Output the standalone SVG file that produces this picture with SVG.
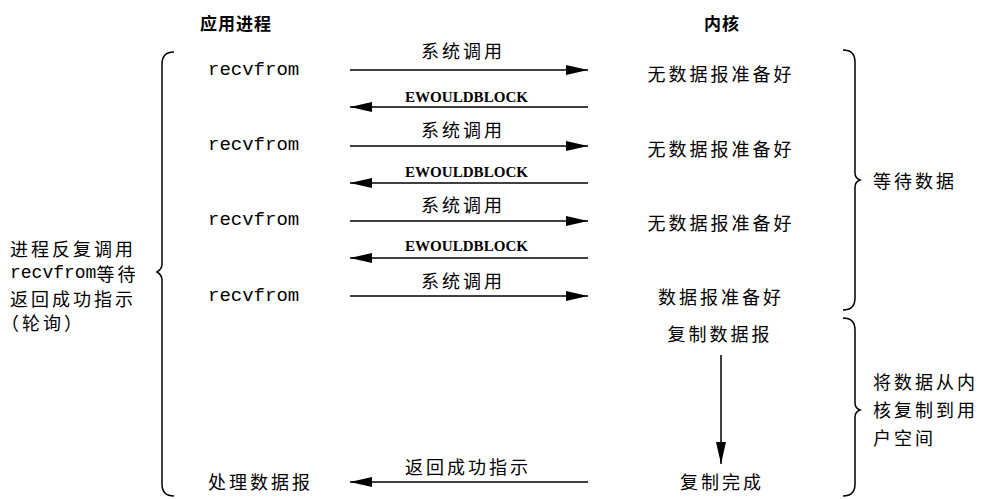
<svg xmlns="http://www.w3.org/2000/svg" width="990" height="499" viewBox="0 0 990 499">
<style>
text{fill:#000;dominant-baseline:central}
.c{font-family:"Noto Sans CJK SC","Liberation Sans",sans-serif;font-size:18px;letter-spacing:3px}
.h{font-family:"Noto Sans CJK SC","Liberation Sans",sans-serif;font-size:17px;font-weight:bold;letter-spacing:1px}
.m{font-family:"Liberation Mono",monospace;font-size:19px;letter-spacing:0}
.e{font-family:"Liberation Serif",serif;font-size:14px;font-weight:bold}
.a{stroke:#000;stroke-width:1.5;fill:none;marker-end:url(#ah)}
.b{stroke:#000;stroke-width:1.5;fill:none}
</style>
<defs>
<marker id="ah" viewBox="0 0 22 10" refX="22" refY="5" markerWidth="22" markerHeight="10" markerUnits="userSpaceOnUse" orient="auto">
<path d="M0,0 L22,5 L0,10 z" fill="#000"/>
</marker>
</defs>
<g id="headers">
<text class="h" x="200" y="22">应用进程</text>
<text class="h" x="704" y="22">内核</text>
</g>
<g id="app">
<text class="m" x="208" y="70">recvfrom</text>
<text class="m" x="208" y="145">recvfrom</text>
<text class="m" x="208" y="220">recvfrom</text>
<text class="m" x="208" y="296">recvfrom</text>
<text class="c" x="208" y="481">处理数据报</text>
</g>
<g id="kernel">
<text class="c" x="721" y="73" text-anchor="middle">无数据报准备好</text>
<text class="c" x="721" y="148" text-anchor="middle">无数据报准备好</text>
<text class="c" x="721" y="222" text-anchor="middle">无数据报准备好</text>
<text class="c" x="721" y="296" text-anchor="middle">数据报准备好</text>
<text class="c" x="720" y="333" text-anchor="middle">复制数据报</text>
<text class="c" x="722" y="481" text-anchor="middle">复制完成</text>
</g>
<g id="labels">
<text class="c" x="463" y="50" text-anchor="middle">系统调用</text>
<text class="c" x="463" y="129" text-anchor="middle">系统调用</text>
<text class="c" x="463" y="204" text-anchor="middle">系统调用</text>
<text class="c" x="463" y="280" text-anchor="middle">系统调用</text>
<text class="e" x="405" y="97" textLength="123" lengthAdjust="spacingAndGlyphs">EWOULDBLOCK</text>
<text class="e" x="405" y="172" textLength="123" lengthAdjust="spacingAndGlyphs">EWOULDBLOCK</text>
<text class="e" x="405" y="246" textLength="123" lengthAdjust="spacingAndGlyphs">EWOULDBLOCK</text>
<text class="c" x="468" y="466" text-anchor="middle">返回成功指示</text>
</g>
<g id="connectors">
<line class="a" x1="350" y1="70" x2="588" y2="70"/>
<line class="a" x1="588" y1="107" x2="350" y2="107"/>
<line class="a" x1="350" y1="146" x2="588" y2="146"/>
<line class="a" x1="588" y1="183" x2="350" y2="183"/>
<line class="a" x1="350" y1="221" x2="588" y2="221"/>
<line class="a" x1="588" y1="258" x2="350" y2="258"/>
<line class="a" x1="350" y1="296" x2="588" y2="296"/>
<line class="a" x1="588" y1="482" x2="350" y2="482"/>
<line class="a" x1="721" y1="355" x2="721" y2="464"/>
</g>
<g id="brace-left">
<path class="b" d="M174,52 Q162,52 162,64 L162,264 Q162,269 157,272 Q162,275 162,280 L162,484 Q162,496 174,496"/>
<text class="c" x="10" y="248">进程反复调用</text>
<text class="c" x="10" y="273"><tspan class="m" style="font-size:18px">recvfrom</tspan>等待</text>
<text class="c" x="10" y="298">返回成功指示</text>
<text class="c" x="1" y="322">（轮询）</text>
</g>
<g id="brace-wait">
<path class="b" d="M843,50 Q855,50 855,62 L855,173 Q855,178 860,180 Q855,182 855,187 L855,298 Q855,310 843,310"/>
<text class="c" x="873" y="180">等待数据</text>
</g>
<g id="brace-copy">
<path class="b" d="M843,318 Q855,318 855,330 L855,403 Q855,408 860,410 Q855,412 855,417 L855,484 Q855,496 843,496"/>
<text class="c" x="873" y="381">将数据从内</text>
<text class="c" x="873" y="409">核复制到用</text>
<text class="c" x="873" y="437">户空间</text>
</g>
</svg>
